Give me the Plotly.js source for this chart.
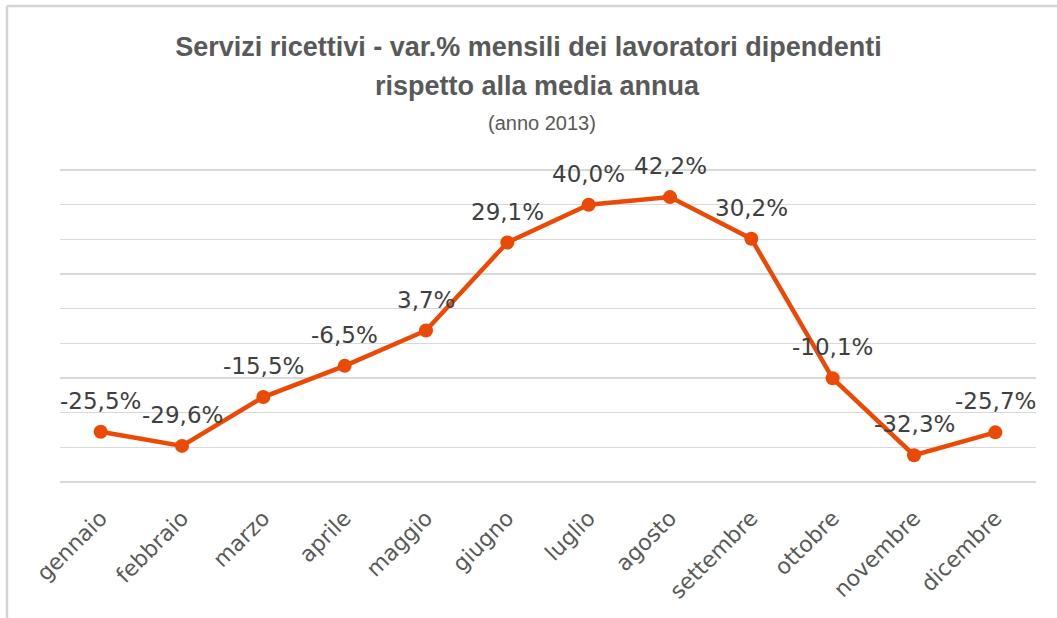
<!DOCTYPE html>
<html>
<head>
<meta charset="utf-8">
<script src="https://cdn.plot.ly/plotly-3.0.1.min.js"></script>
<style>
  html, body { margin: 0; padding: 0; background: #fff; }
  #chart { width: 1057px; height: 618px; }
</style>
</head>
<body>
<div id="chart"></div>
<script>
const months = ["gennaio", "febbraio", "marzo", "aprile", "maggio", "giugno",
                "luglio", "agosto", "settembre", "ottobre", "novembre", "dicembre"];
const variation = [-25.5, -29.6, -15.5, -6.5, 3.7, 29.1, 40.0, 42.2, 30.2, -10.1, -32.3, -25.7];
const valueLabels = ["-25,5%", "-29,6%", "-15,5%", "-6,5%", "3,7%", "29,1%",
                     "40,0%", "42,2%", "30,2%", "-10,1%", "-32,3%", "-25,7%"];
const titleLine1 = "Servizi ricettivi - var.% mensili dei lavoratori dipendenti";
const titleLine2 = "rispetto alla media annua";
const subtitle = "(anno 2013)";

const lineColor = "#EA4A05";

// plot area geometry (pixels)
const W = 1057, H = 618, ML = 60, MR = 21, MT = 168, MB = 134;
const PW = W - ML - MR, PH = H - MT - MB;
const px2paperX = px => (px - ML) / PW;
const px2paperY = py => (H - MB - py) / PH;

const trace = {
  type: "scatter",
  mode: "lines+markers",
  x: months,
  y: variation,
  line: { color: lineColor, width: 4.5 },
  marker: { color: lineColor, size: 14 },
  cliponaxis: false,
  hoverinfo: "x+y"
};

const labelAnnotations = months.map((m, i) => ({
  x: m,
  y: variation[i],
  xref: "x",
  yref: "y",
  text: valueLabels[i],
  showarrow: false,
  xanchor: "center",
  yanchor: "bottom",
  yshift: 16,
  font: { family: "DejaVu Sans", size: 23, color: "#404040" }
}));

const layout = {
  width: W,
  height: H,
  margin: { l: ML, r: MR, t: MT, b: MB },
  paper_bgcolor: "#ffffff",
  plot_bgcolor: "#ffffff",
  showlegend: false,
  title: {
    text: "<b>" + titleLine1 + "</b>",
    font: { family: "Liberation Sans", size: 27, color: "#595959" },
    x: 0.5, xanchor: "center",
    y: 1 - 47 / H, yanchor: "middle"
  },
  annotations: [
    {
      text: "<b>" + titleLine2 + "</b>",
      xref: "paper", yref: "paper", x: px2paperX(537), y: px2paperY(86),
      xanchor: "center", yanchor: "middle", showarrow: false,
      font: { family: "Liberation Sans", size: 27, color: "#595959" }
    },
    {
      text: subtitle,
      xref: "paper", yref: "paper", x: px2paperX(542), y: px2paperY(123),
      xanchor: "center", yanchor: "middle", showarrow: false,
      font: { family: "Liberation Sans", size: 20, color: "#595959" }
    }
  ].concat(labelAnnotations),
  shapes: [
    { type: "line", xref: "paper", yref: "paper", layer: "above",
      x0: px2paperX(7), x1: px2paperX(1070), y0: px2paperY(6), y1: px2paperY(6),
      line: { color: "#d4d4d4", width: 2.5 } },
    { type: "line", xref: "paper", yref: "paper", layer: "above",
      x0: px2paperX(7), x1: px2paperX(7), y0: px2paperY(6), y1: px2paperY(640),
      line: { color: "#d4d4d4", width: 2.5 } }
  ],
  xaxis: {
    type: "category",
    range: [-0.5, 11.5],
    tickangle: -45,
    tickfont: { family: "DejaVu Sans", size: 22, color: "#595959" },
    ticklabelstandoff: 16,
    showgrid: false,
    showline: false,
    zeroline: false,
    ticks: ""
  },
  yaxis: {
    range: [-40.6, 50.6],
    dtick: 10,
    tick0: 0,
    showticklabels: false,
    showgrid: true,
    gridcolor: "#d9d9d9",
    gridwidth: 1.5,
    zeroline: true,
    zerolinecolor: "#d9d9d9",
    zerolinewidth: 1.5,
    showline: false,
    ticks: ""
  }
};

Plotly.newPlot("chart", [trace], layout, { displayModeBar: false, staticPlot: true });
</script>
</body>
</html>
